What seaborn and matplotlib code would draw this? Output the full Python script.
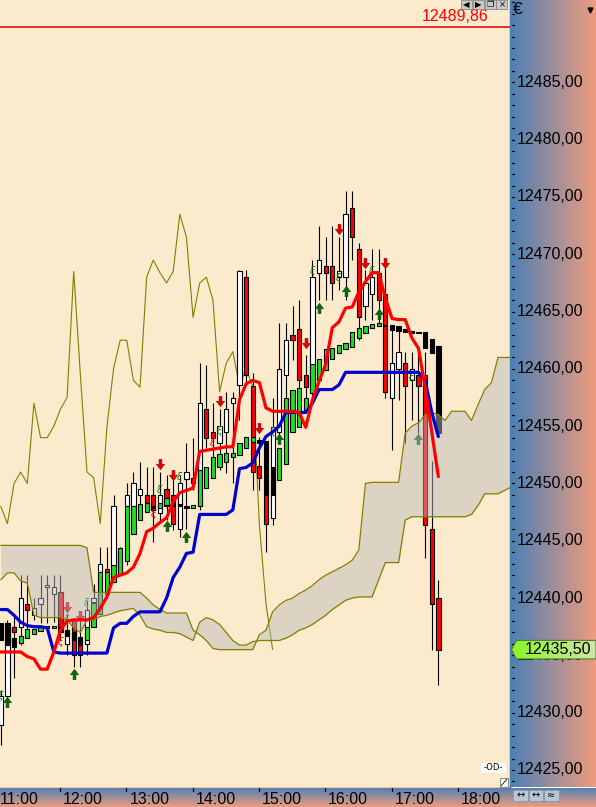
import numpy as np
import pandas as pd
import matplotlib
matplotlib.use("Agg")
import matplotlib.pyplot as plt
import seaborn as sns
from matplotlib.path import Path
from matplotlib.patches import Rectangle, Polygon
from matplotlib.colors import to_rgb

# ------------------------------------------------------------------ data
hour_labels = ["11:00", "12:00", "13:00", "14:00", "15:00", "16:00", "17:00", "18:00"]
y_tick_values = [12425, 12430, 12435, 12440, 12445, 12450, 12455, 12460, 12465, 12470, 12475, 12480, 12485]
last_price = 12435.50
ref_price = 12489.86

open_ = [12428.9, 12431.5, 12437.5, 12437.5, 12439.5, 12438.5, 12439.5, 12441.0, 12440.4, 12440.5,
         12436.0, 12438.1, 12436.3, 12436.0, 12439.7, 12442.3, 12442.5, 12442.8, 12442.5, 12448.0,
         12448.0, 12449.0, 12449.0, 12449.0, 12447.4, 12449.5, 12449.0, 12446.0, 12450.4, 12450.5,
         12448.0, 12456.5, 12454.5, 12453.5, 12454.5, 12457.0, 12458.6, 12468.0, 12458.5, 12451.5,
         12449.0, 12447.0, 12454.5, 12459.5, 12463.0, 12463.5, 12459.5, 12457.9, 12468.4, 12469.0,
         12469.0, 12468.0, 12468.0, 12474.0, 12470.5, 12465.5, 12466.5, 12468.4, 12466.5, 12457.5,
         12460.0, 12460.5, 12459.0, 12459.5, 12459.5, 12446.0, 12440.0]
high = [12432.0, 12438.1, 12438.5, 12442.0, 12442.0, 12440.0, 12442.0, 12442.0, 12442.0, 12442.0,
        12438.7, 12438.3, 12438.1, 12439.8, 12441.2, 12444.5, 12444.5, 12449.0, 12444.5, 12450.0,
        12451.0, 12451.9, 12451.4, 12451.4, 12451.0, 12450.7, 12450.3, 12450.7, 12453.5, 12454.0,
        12460.5, 12460.3, 12457.0, 12456.5, 12458.0, 12458.0, 12468.6, 12468.6, 12459.6, 12454.1,
        12449.4, 12457.5, 12464.0, 12464.0, 12465.5, 12466.0, 12461.2, 12469.5, 12472.5, 12471.5,
        12472.5, 12471.5, 12475.5, 12475.5, 12471.0, 12468.6, 12470.5, 12470.5, 12468.8, 12463.4,
        12463.4, 12461.5, 12461.5, 12461.5, 12461.5, 12452.0, 12441.6]
low = [12427.2, 12431.3, 12433.0, 12435.9, 12436.8, 12438.1, 12437.8, 12437.8, 12437.9, 12436.3,
       12435.0, 12434.0, 12434.0, 12435.0, 12438.8, 12441.6, 12441.6, 12442.5, 12442.1, 12442.9,
       12447.3, 12448.1, 12447.7, 12444.9, 12446.6, 12446.8, 12445.9, 12445.3, 12446.0, 12449.4,
       12447.7, 12453.1, 12452.0, 12451.2, 12450.9, 12450.0, 12455.5, 12458.6, 12449.4, 12449.4,
       12444.0, 12446.4, 12453.8, 12457.3, 12460.8, 12458.2, 12457.3, 12457.3, 12466.0, 12466.0,
       12466.0, 12466.9, 12466.0, 12469.5, 12462.5, 12464.3, 12464.3, 12463.8, 12457.5, 12452.9,
       12457.3, 12453.5, 12455.5, 12454.4, 12443.5, 12435.5, 12432.4]
close = [12431.5, 12437.7, 12437.0, 12440.0, 12439.0, 12439.1, 12440.0, 12441.1, 12441.0, 12437.0,
         12437.0, 12435.0, 12435.0, 12439.0, 12440.0, 12443.0, 12442.3, 12448.0, 12444.0, 12449.0,
         12450.0, 12449.5, 12448.3, 12447.7, 12449.0, 12448.0, 12446.5, 12450.0, 12451.0, 12450.0,
         12457.0, 12454.0, 12454.0, 12455.0, 12456.5, 12457.5, 12468.5, 12459.5, 12451.0, 12450.5,
         12446.5, 12454.9, 12460.0, 12462.5, 12462.5, 12459.0, 12458.4, 12468.0, 12469.5, 12468.4,
         12467.5, 12468.5, 12473.5, 12471.5, 12464.5, 12467.5, 12468.0, 12466.0, 12458.0, 12460.5,
         12461.5, 12458.5, 12460.0, 12458.5, 12446.4, 12439.5, 12435.5]

ha_open = [12437.8, 12437.8, 12436.5, 12436.1, 12436.5, 12436.9, 12437.1, 12437.4, 12437.4, 12437.5,
           12437.2, 12437.0, 12436.6, 12436.3, 12437.5, 12438.6, 12440.4, 12441.4, 12442.0, 12443.2,
           12445.6, 12446.8, 12447.5, 12448.0, 12447.9, 12448.1, 12448.5, 12448.2, 12448.0, 12447.9,
           12448.0, 12449.6, 12450.5, 12451.4, 12451.9, 12452.3, 12452.5, 12453.1, 12453.6, 12453.8,
           12453.7, 12451.4, 12450.3, 12451.7, 12454.5, 12454.9, 12456.4, 12457.9, 12459.0, 12459.9,
           12460.9, 12461.4, 12461.7, 12461.9, 12462.7, 12463.1, 12463.6, 12463.7, 12463.8, 12463.8,
           12463.7, 12463.5, 12463.3, 12463.2, 12463.2, 12462.6, 12462.0]
ha_close = [12436.3, 12435.9, 12435.7, 12436.7, 12437.3, 12437.3, 12437.5, 12437.6, 12437.6, 12437.0,
            12436.7, 12436.3, 12435.9, 12437.5, 12439.6, 12442.3, 12442.3, 12442.9, 12444.4, 12448.0,
            12448.0, 12448.2, 12448.3, 12447.7, 12448.3, 12448.7, 12448.0, 12448.0, 12447.9, 12448.1,
            12451.2, 12451.4, 12452.3, 12452.6, 12452.7, 12452.7, 12453.5, 12454.1, 12454.1, 12453.5,
            12449.0, 12449.0, 12453.1, 12457.5, 12458.2, 12458.3, 12457.5, 12460.4, 12460.9, 12461.7,
            12461.8, 12462.1, 12462.3, 12463.2, 12463.6, 12463.7, 12463.9, 12464.0, 12463.7, 12463.4,
            12463.3, 12463.2, 12463.1, 12463.1, 12461.8, 12461.4, 12454.4]

tenkan = [12435.3, 12435.3, 12435.3, 12435.3, 12434.9, 12434.7, 12433.8, 12433.8, 12435.3, 12437.2,
          12438.0, 12438.1, 12438.1, 12438.1, 12438.3, 12439.1, 12440.1, 12441.8, 12442.0, 12442.2,
          12442.7, 12443.9, 12445.8, 12446.1, 12446.6, 12447.0, 12448.4, 12449.2, 12449.4, 12449.6,
          12452.8, 12452.9, 12453.0, 12453.1, 12453.2, 12453.2, 12457.3, 12458.7, 12459.0, 12458.8,
          12456.6, 12456.3, 12456.3, 12456.3, 12456.3, 12456.2, 12454.9, 12457.3, 12458.9, 12460.4,
          12463.6, 12464.1, 12465.3, 12465.4, 12466.7, 12467.6, 12468.4, 12468.4, 12466.2, 12464.4,
          12464.3, 12464.3, 12462.7, 12461.8, 12458.4, 12454.5, 12450.6]
kijun = [12439.0, 12439.0, 12438.5, 12437.9, 12437.6, 12437.5, 12437.5, 12437.4, 12435.3, 12435.2,
         12435.2, 12435.2, 12435.2, 12435.2, 12435.2, 12435.2, 12435.2, 12437.4, 12437.8, 12437.8,
         12438.4, 12438.8, 12438.8, 12438.8, 12438.8, 12440.0, 12441.8, 12442.7, 12443.9, 12444.0,
         12447.3, 12447.3, 12447.3, 12447.3, 12447.3, 12447.7, 12451.3, 12451.4, 12451.8, 12453.1,
         12454.1, 12454.5, 12455.0, 12456.2, 12456.2, 12456.2, 12456.2, 12457.0, 12458.2, 12458.2,
         12458.2, 12458.6, 12459.7, 12459.7, 12459.7, 12459.7, 12459.7, 12459.7, 12459.7, 12459.7,
         12459.7, 12459.7, 12459.7, 12459.7, 12459.0, 12456.2, 12454.1]

senkou_a = [12444.6, 12444.6, 12444.6, 12444.6, 12444.6, 12444.6, 12444.6, 12444.6, 12444.6, 12444.6,
            12444.6, 12444.6, 12444.6, 12444.4, 12440.5, 12440.5, 12440.5, 12440.5, 12440.5, 12440.5,
            12440.5, 12440.5, 12440.0, 12439.4, 12439.0, 12438.7, 12438.7, 12438.7, 12438.7, 12437.2,
            12436.8, 12436.3, 12435.6, 12435.5, 12435.5, 12435.5, 12435.5, 12435.5, 12435.5, 12436.8,
            12437.2, 12438.8, 12439.4, 12439.8, 12440.0, 12440.4, 12440.7, 12441.1, 12441.6, 12442.0,
            12442.3, 12442.6, 12442.9, 12443.3, 12444.2, 12450.0, 12450.1, 12450.1, 12450.1, 12450.1,
            12450.1, 12454.4, 12455.0, 12455.3, 12456.0, 12456.2, 12456.0, 12455.5, 12456.3, 12456.3,
            12456.3, 12455.5, 12456.9, 12458.2, 12458.8, 12461.0, 12461.0, 12461.0]
senkou_b = [12441.6, 12442.2, 12442.2, 12441.5, 12441.3, 12438.5, 12438.3, 12438.3, 12438.3, 12438.3,
            12438.1, 12437.4, 12437.0, 12438.1, 12438.1, 12438.4, 12438.5, 12438.7, 12438.9, 12439.0,
            12439.1, 12438.5, 12437.5, 12437.3, 12437.2, 12437.0, 12437.0, 12436.9, 12436.6, 12436.3,
            12437.9, 12438.3, 12438.1, 12437.7, 12437.0, 12436.3, 12435.9, 12435.9, 12436.2, 12436.3,
            12436.3, 12436.3, 12436.3, 12436.5, 12436.8, 12437.2, 12437.4, 12437.7, 12438.1, 12438.5,
            12439.0, 12439.4, 12439.8, 12440.0, 12440.1, 12440.1, 12440.1, 12441.6, 12443.1, 12443.1,
            12443.1, 12446.8, 12447.1, 12447.1, 12447.1, 12447.1, 12447.1, 12447.1, 12447.1, 12447.1,
            12447.1, 12447.3, 12448.1, 12449.1, 12449.1, 12449.1, 12449.4, 12449.7]

up_arrow_idx = [1, 11, 25, 28, 42, 48, 52, 57, 63]
up_arrow_val = [12430.9, 12433.4, 12446.3, 12445.3, 12453.9, 12465.3, 12466.8, 12464.8, 12453.9]
down_arrow_idx = [10, 12, 24, 26, 33, 39, 46, 51, 55, 58]
down_arrow_val = [12439.2, 12438.4, 12451.7, 12450.7, 12457.2, 12454.8, 12462.3, 12472.2, 12469.2, 12469.2]
sig_green_idx = [0, 10, 13, 24, 27, 33, 41, 47, 51, 56, 62]
sig_green_val = [12431.5, 12438.1, 12439.6, 12449.4, 12450.6, 12454.6, 12454.5, 12468.5, 12467.9, 12468.5, 12459.3]
sig_red_idx = [9, 23, 32]
sig_red_val = [12436.2, 12447.3, 12453.5]

CHIKOU_SHIFT = 25

# ------------------------------------------------------------------ layout
W, H = 596, 807
PLOT_R = 509.5          # px, right border of price pane
PLOT_B = 787.5          # px, bottom border of price pane
BAR0, BAR_W = 0.8, 6.63  # px position of bar 0 and spacing
P_TOP, PX_PER_PT = 12492.19, 11.46
BG = "#FCEACC"
BLUE_G, SALMON_G = "#4A80B6", "#EF9C7E"

sns.set_style("white")
plt.rcParams["font.family"] = ["Liberation Sans", "DejaVu Sans"]

fig = plt.figure(figsize=(W / 100, H / 100), dpi=100)
ax = fig.add_axes([0, (H - PLOT_B) / H, PLOT_R / W, PLOT_B / H])
ax.set_facecolor(BG)
xmin, xmax = -BAR0 / BAR_W, (PLOT_R - BAR0) / BAR_W
ymin, ymax = P_TOP - PLOT_B / PX_PER_PT, P_TOP
ax.set_xlim(xmin, xmax)
ax.set_ylim(ymin, ymax)
ax.set_xticks([])
ax.set_yticks([])
for s in ["top", "left"]:
    ax.spines[s].set_visible(False)
for s in ["right", "bottom"]:
    ax.spines[s].set_color("#E00000")
    ax.spines[s].set_linewidth(1.0)

n = len(close)
x = np.arange(n)
o, h, l, c = map(np.array, (open_, high, low, close))
hao, hac = np.array(ha_open), np.array(ha_close)

# chikou span = close plotted back in time
chikou = close[CHIKOU_SHIFT:]
sns.lineplot(x=np.arange(len(chikou)), y=chikou, ax=ax, color="#808000", linewidth=0.8, zorder=1.5)

# regular candles
ax.vlines(x, l, h, color="black", linewidth=0.8, zorder=2)
body_col = np.where(c >= o, "white", "#FF0000")
ax.bar(x, c - o, bottom=o, width=0.64, color=body_col, edgecolor="black", linewidth=0.8, zorder=3)
# heikin-ashi bodies
ha_col = np.where(hac >= hao, "#22DD22", "black")
ax.bar(x, hac - hao, bottom=hao, width=0.64, color=ha_col, edgecolor="black", linewidth=0.8, zorder=4)

# arrows
up_path = Path([(-0.28, -1), (0.28, -1), (0.28, -0.05), (0.8, -0.05), (0, 1), (-0.8, -0.05),
                (-0.28, -0.05), (-0.28, -1), (0, 0)],
               [Path.MOVETO] + [Path.LINETO] * 7 + [Path.CLOSEPOLY])
down_path = Path([(vx, -vy) for vx, vy in up_path.vertices], up_path.codes)
ax.scatter(up_arrow_idx, up_arrow_val, marker=up_path, s=55, color="#0A6A0A", edgecolor="#064806",
           linewidth=0.4, zorder=4.5)
ax.scatter(down_arrow_idx, down_arrow_val, marker=down_path, s=55, color="#E00000", edgecolor="#A00000",
           linewidth=0.4, zorder=4.5)
for xi, yv in zip(sig_green_idx, sig_green_val):
    ax.text(xi, yv, r"$\xi$", color="#108010", fontsize=7, ha="center", va="center", zorder=4.5)
for xi, yv in zip(sig_red_idx, sig_red_val):
    ax.text(xi, yv, r"$\xi$", color="#E00000", fontsize=7, ha="center", va="center", zorder=4.5)

# kumo cloud
xc = np.arange(len(senkou_a))
ax.fill_between(xc, senkou_a, senkou_b, color="#BBBBBF", alpha=0.48, linewidth=0, zorder=5)
sns.lineplot(x=xc, y=senkou_a, ax=ax, color="#808000", linewidth=0.9, zorder=5.5)
sns.lineplot(x=xc, y=senkou_b, ax=ax, color="#808000", linewidth=0.9, zorder=5.5)

# tenkan / kijun
sns.lineplot(x=x, y=kijun, ax=ax, color="#0000CC", linewidth=2.3, zorder=6)
sns.lineplot(x=x, y=tenkan, ax=ax, color="#FF0000", linewidth=2.3, zorder=6.5)

# reference line
ax.axhline(ref_price, color="#E00000", linewidth=1.1, zorder=8)
ax.text(xmin + (488 / PLOT_R) * (xmax - xmin), ref_price + 0.25, f"{ref_price:.2f}".replace(".", ","),
        color="#FF0000", fontsize=11.5, ha="right", va="bottom", zorder=8)


def gradient(axg, c1, c2, extent, vertical=False):
    t = np.linspace(0, 1, 256)
    a, b = np.array(to_rgb(c1)), np.array(to_rgb(c2))
    img = a[None, :] * (1 - t[:, None]) + b[None, :] * t[:, None]
    img = img[:, None, :] if vertical else img[None, :, :]
    return axg.imshow(img, extent=extent, aspect="auto", origin="upper", interpolation="bilinear", zorder=0)


# ------------------------------------------------------------------ right price panel
rp = fig.add_axes([510 / W, (H - PLOT_B) / H, 86 / W, PLOT_B / H])
rp.set_xlim(0, 86)
rp.set_ylim(ymin, ymax)
gradient(rp, BLUE_G, SALMON_G, [0, 86, ymin, ymax])
rp.axis("off")
for p in range(int(np.ceil(ymin)), int(ymax) + 1):
    rp.plot([1.5, 3.5], [p, p], color="black", linewidth=0.9, zorder=2)
for p in y_tick_values:
    rp.text(7, p, f"{p:.2f}".replace(".", ","), fontsize=11.5, ha="left", va="center", color="black", zorder=3)
rp.text(3, P_TOP - 10 / PX_PER_PT, "€", fontsize=12.5, ha="left", va="center", color="black")
rp.scatter([80], [P_TOP - 9.5 / PX_PER_PT], marker="v", s=12, color="black")

# current price tag
py = last_price
hh = 9.3 / PX_PER_PT
tag = Polygon([(1.5, py), (6.5, py + hh), (86, py + hh), (86, py - hh), (6.5, py - hh)], closed=True,
              facecolor="none", edgecolor="#557733", linewidth=0.8, zorder=5)
rp.add_patch(tag)
im = gradient(rp, "#8CF52A", "#CFE6A8", [1.5, 86, py - hh, py + hh])
im.set_zorder(4)
im.set_clip_path(tag)
rp.text(15, py, f"{last_price:.2f}".replace(".", ","), fontsize=11.5, ha="left", va="center",
        color="black", zorder=6)

# ------------------------------------------------------------------ bottom time panel
bp = fig.add_axes([0, 0, 1, (H - PLOT_B) / H])
bp.set_xlim(0, W)
bp.set_ylim(H - PLOT_B, 0)
gradient(bp, BLUE_G, SALMON_G, [0, W, H - PLOT_B, 0], vertical=True)
bp.axis("off")
for k, lab in enumerate(hour_labels):
    px = BAR0 + BAR_W * (-1.07 + 10 * k)
    bp.plot([px, px], [0.3, 3.2], color="black", linewidth=0.9)
    bp.text(max(px + 3, -0.5), 12.3, lab, fontsize=11.5, ha="left", va="center", color="black", clip_on=False)

# ------------------------------------------------------------------ overlay widgets (pixel coords)
ov = fig.add_axes([0, 0, 1, 1])
ov.set_xlim(0, W)
ov.set_ylim(H, 0)
ov.axis("off")
ov.patch.set_alpha(0)
for k, g in enumerate(["◀", "▶", "❐", "×"]):
    x0 = 461 + k * 11.8
    ov.add_patch(Rectangle((x0, 0), 11, 8.6, facecolor="#C9C9C9", edgecolor="#7A7A7A", linewidth=0.5))
    ov.text(x0 + 5.5, 4.5, g, fontsize=6, ha="center", va="center", color="black", family="DejaVu Sans")
ov.add_patch(Rectangle((481, 763), 25, 10, facecolor="white", edgecolor="none"))
ov.text(493.5, 768, "-OD-", fontsize=6, ha="center", va="center", color="black", family="DejaVu Sans")
ov.add_patch(Rectangle((500, 778), 8, 8.5, facecolor="white", edgecolor="#606060", linewidth=0.5))
ov.plot([501, 507], [786, 779], color="black", linewidth=0.6)
for k in range(3):
    x0 = 513 + k * 15.5
    ov.add_patch(Rectangle((x0, 790), 14.5, 11, facecolor="#B9C6D3", edgecolor="#8090A0", linewidth=0.5))
    ov.text(x0 + 7.2, 795.5, "↔" if k < 2 else "≈", fontsize=7, ha="center", va="center",
            color="black", family="DejaVu Sans")

fig.savefig("out.png", dpi=100)
